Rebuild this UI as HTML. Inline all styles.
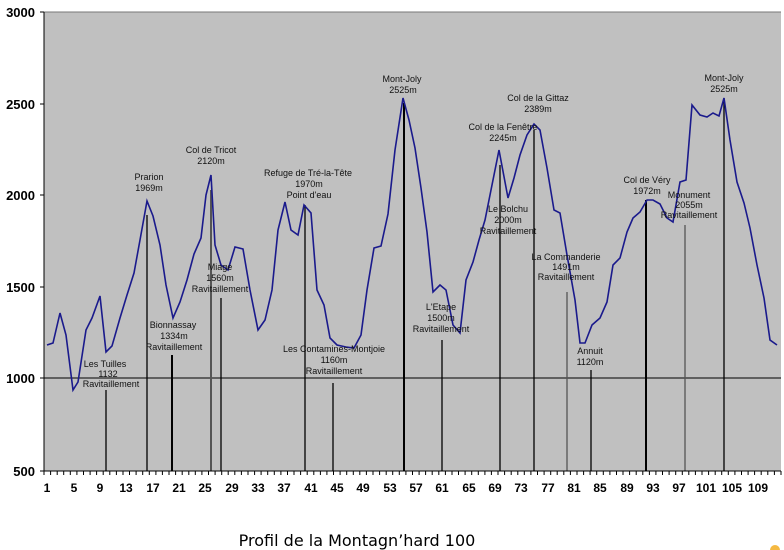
<!DOCTYPE html>
<html><head><meta charset="utf-8"><style>
body{margin:0;background:#fff;width:784px;height:550px;overflow:hidden}
svg{display:block}
.yl{font:bold 13px "Liberation Sans",sans-serif;text-anchor:end}
.xl{font:bold 12px "Liberation Sans",sans-serif;text-anchor:middle}
.lb{font:9px "Liberation Sans",sans-serif;text-anchor:middle;fill:#111}
</style></head><body>
<svg width="784" height="550" viewBox="0 0 784 550">
<rect x="44" y="12" width="737" height="459" fill="#c0c0c0"/>
<line x1="44" y1="12" x2="781" y2="12" stroke="#777" stroke-width="1"/>
<line x1="44" y1="378" x2="781" y2="378" stroke="#000" stroke-width="1"/>
<g stroke="#000" stroke-width="1.3">
<line x1="106" y1="390" x2="106" y2="471"/>
<line x1="147" y1="215" x2="147" y2="471"/>
<line x1="172" y1="355" x2="172" y2="471" stroke-width="2"/>
<line x1="211" y1="190" x2="211" y2="471" stroke="#555" stroke-width="2"/>
<line x1="221" y1="298" x2="221" y2="471"/>
<line x1="305" y1="205" x2="305" y2="471"/>
<line x1="333" y1="383" x2="333" y2="471"/>
<line x1="404" y1="103" x2="404" y2="471" stroke-width="2"/>
<line x1="442" y1="340" x2="442" y2="471"/>
<line x1="500" y1="165" x2="500" y2="471"/>
<line x1="534" y1="130" x2="534" y2="471"/>
<line x1="567" y1="292" x2="567" y2="471" stroke="#555"/>
<line x1="591" y1="370" x2="591" y2="471"/>
<line x1="646" y1="200" x2="646" y2="471" stroke-width="2"/>
<line x1="685" y1="225" x2="685" y2="471" stroke="#555"/>
<line x1="724" y1="98" x2="724" y2="471"/>
</g>
<polyline fill="none" stroke="#1a1a8c" stroke-width="1.6" points="47,345 53,343 60,313 66,335 73,390 78,382 86,330 92,318 100,296 106,352 112,346 120,318 127,295 134,273 140,240 147,201 153,216 160,245 166,285 173,318 180,302 187,280 194,254 201,238 206,195 211,175 215,245 221,265 228,270 235,247 243,249 250,290 258,330 265,320 272,290 278,230 285,202 291,230 298,235 304,205 311,213 317,290 324,305 330,338 337,345 346,347 354,348 361,335 367,290 374,248 381,246 388,214 395,150 403,98 409,120 415,148 421,188 427,232 433,292 440,285 446,290 453,325 460,333 466,280 473,262 479,240 485,220 492,185 499,150 508,198 514,178 520,155 527,135 534,124 540,130 547,168 554,210 560,213 567,255 575,300 580,343 585,343 592,325 600,318 607,302 613,265 620,258 627,232 633,218 640,212 647,200 653,200 660,204 667,218 673,222 680,182 686,180 692,105 700,115 707,117 713,113 719,116 724,98 730,140 737,182 744,203 750,228 757,265 764,298 770,340 777,345"/>
<line x1="44" y1="12" x2="44" y2="471" stroke="#000"/>
<line x1="44" y1="471" x2="781" y2="471" stroke="#000"/>
<g stroke="#000">
<line x1="40" y1="12" x2="44" y2="12"/><line x1="40" y1="104" x2="44" y2="104"/><line x1="40" y1="195" x2="44" y2="195"/><line x1="40" y1="287" x2="44" y2="287"/><line x1="40" y1="378" x2="44" y2="378"/><line x1="40" y1="471" x2="44" y2="471"/>
</g>
<path d="M44 471v4M50.6 471v4M57.2 471v4M63.7 471v4M70.3 471v4M76.9 471v4M83.5 471v4M90.1 471v4M96.6 471v4M103.2 471v4M109.8 471v4M116.4 471v4M123 471v4M129.5 471v4M136.1 471v4M142.7 471v4M149.3 471v4M155.9 471v4M162.4 471v4M169 471v4M175.6 471v4M182.2 471v4M188.8 471v4M195.3 471v4M201.9 471v4M208.5 471v4M215.1 471v4M221.7 471v4M228.2 471v4M234.8 471v4M241.4 471v4M248 471v4M254.6 471v4M261.1 471v4M267.7 471v4M274.3 471v4M280.9 471v4M287.5 471v4M294 471v4M300.6 471v4M307.2 471v4M313.8 471v4M320.4 471v4M326.9 471v4M333.5 471v4M340.1 471v4M346.7 471v4M353.3 471v4M359.8 471v4M366.4 471v4M373 471v4M379.6 471v4M386.2 471v4M392.7 471v4M399.3 471v4M405.9 471v4M412.5 471v4M419.1 471v4M425.6 471v4M432.2 471v4M438.8 471v4M445.4 471v4M452 471v4M458.5 471v4M465.1 471v4M471.7 471v4M478.3 471v4M484.9 471v4M491.4 471v4M498 471v4M504.6 471v4M511.2 471v4M517.8 471v4M524.3 471v4M530.9 471v4M537.5 471v4M544.1 471v4M550.7 471v4M557.2 471v4M563.8 471v4M570.4 471v4M577 471v4M583.6 471v4M590.1 471v4M596.7 471v4M603.3 471v4M609.9 471v4M616.5 471v4M623 471v4M629.6 471v4M636.2 471v4M642.8 471v4M649.4 471v4M655.9 471v4M662.5 471v4M669.1 471v4M675.7 471v4M682.3 471v4M688.8 471v4M695.4 471v4M702 471v4M708.6 471v4M715.2 471v4M721.7 471v4M728.3 471v4M734.9 471v4M741.5 471v4M748.1 471v4M754.6 471v4M761.2 471v4M767.8 471v4M774.4 471v4M781 471v4" stroke="#000"/>
<g class="yl"><text x="35" y="17">3000</text><text x="35" y="109">2500</text><text x="35" y="200">2000</text><text x="35" y="292">1500</text><text x="35" y="383">1000</text><text x="35" y="476">500</text></g>
<g class="xl"><text x="47" y="492">1</text><text x="74" y="492">5</text><text x="100" y="492">9</text><text x="126" y="492">13</text><text x="153" y="492">17</text><text x="179" y="492">21</text><text x="205" y="492">25</text><text x="232" y="492">29</text><text x="258" y="492">33</text><text x="284" y="492">37</text><text x="311" y="492">41</text><text x="337" y="492">45</text><text x="363" y="492">49</text><text x="390" y="492">53</text><text x="416" y="492">57</text><text x="442" y="492">61</text><text x="469" y="492">65</text><text x="495" y="492">69</text><text x="521" y="492">73</text><text x="548" y="492">77</text><text x="574" y="492">81</text><text x="600" y="492">85</text><text x="627" y="492">89</text><text x="653" y="492">93</text><text x="679" y="492">97</text><text x="706" y="492">101</text><text x="732" y="492">105</text><text x="758" y="492">109</text></g>
<g class="lb">
<text x="105" y="367">Les Tuilles</text><text x="108" y="377">1132</text><text x="111" y="387">Ravitaillement</text>
<text x="149" y="180">Prarion</text><text x="149" y="191">1969m</text>
<text x="173" y="328">Bionnassay</text><text x="174" y="339">1334m</text><text x="174" y="350">Ravitaillement</text>
<text x="211" y="153">Col de Tricot</text><text x="211" y="164">2120m</text>
<text x="220" y="270">Miage</text><text x="220" y="281">1560m</text><text x="220" y="292">Ravitaillement</text>
<text x="308" y="176">Refuge de Tré-la-Tête</text><text x="309" y="187">1970m</text><text x="309" y="198">Point d'eau</text>
<text x="334" y="352">Les Contamines-Montjoie</text><text x="334" y="363">1160m</text><text x="334" y="374">Ravitaillement</text>
<text x="402" y="82">Mont-Joly</text><text x="403" y="93">2525m</text>
<text x="441" y="310">L'Etape</text><text x="441" y="321">1500m</text><text x="441" y="332">Ravitaillement</text>
<text x="503" y="130">Col de la Fenêtre</text><text x="503" y="141">2245m</text>
<text x="538" y="101">Col de la Gittaz</text><text x="538" y="112">2389m</text>
<text x="508" y="212">Le Bolchu</text><text x="508" y="223">2000m</text><text x="508" y="234">Ravitaillement</text>
<text x="566" y="260">La Commanderie</text><text x="566" y="270">1491m</text><text x="566" y="280">Ravitaillement</text>
<text x="590" y="354">Annuit</text><text x="590" y="365">1120m</text>
<text x="647" y="183">Col de Véry</text><text x="647" y="194">1972m</text>
<text x="689" y="198">Monument</text><text x="689" y="208">2055m</text><text x="689" y="218">Ravitaillement</text>
<text x="724" y="81">Mont-Joly</text><text x="724" y="92">2525m</text>
</g>
<text x="357" y="546" style="font:16px 'DejaVu Sans',sans-serif;text-anchor:middle">Profil de la Montagn’hard 100</text>
<circle cx="775" cy="550" r="5" fill="#f5b942"/>
</svg>
</body></html>
